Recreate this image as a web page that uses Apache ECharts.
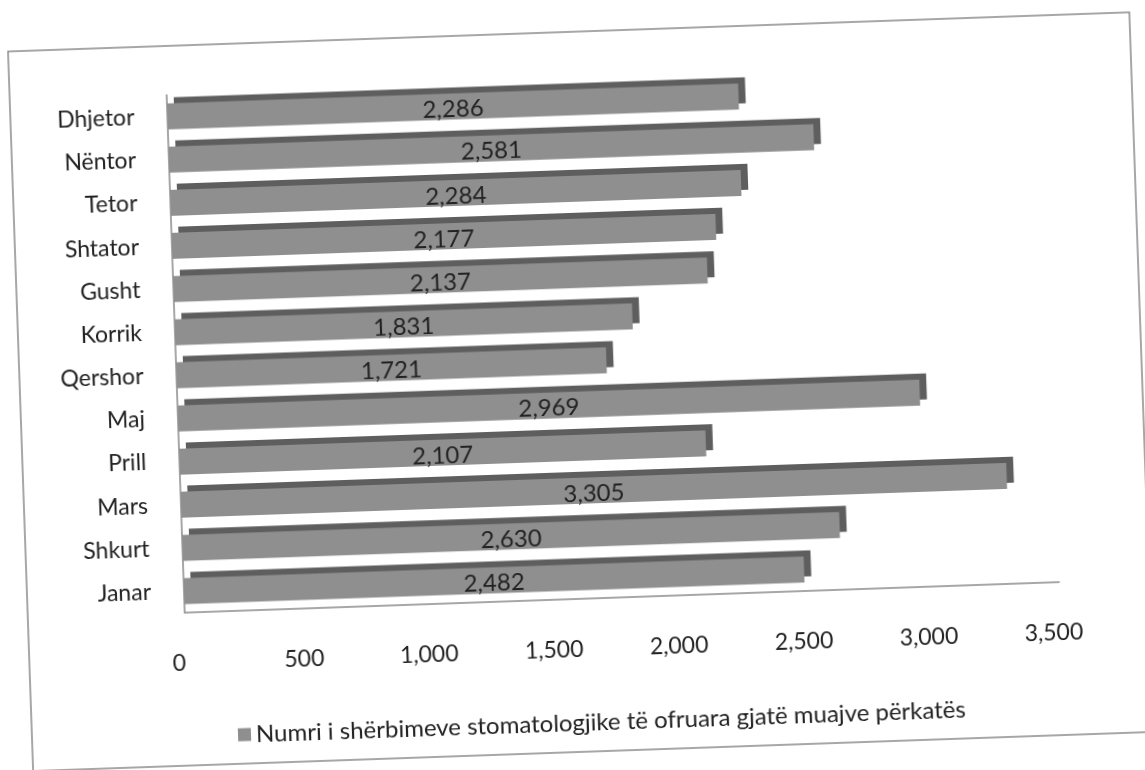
<!DOCTYPE html>
<html>
<head>
<meta charset="utf-8">
<script src="https://cdn.jsdelivr.net/npm/echarts@6/dist/echarts.min.js"></script>
<style>
  html, body { margin: 0; padding: 0; background: #fff; overflow: hidden; }
  /* skanimi eshte pak i rrotulluar */
  #chart { width: 1145px; height: 770px; transform: rotate(-2deg); transform-origin: 572px 385px; }
</style>
</head>
<body>
<div id="chart"></div>
<script>
// muajt (nga poshte lart)
var months = ['Janar', 'Shkurt', 'Mars', 'Prill', 'Maj', 'Qershor', 'Korrik', 'Gusht', 'Shtator', 'Tetor', 'Nëntor', 'Dhjetor'];
// numri i sherbimeve
var services = [2482, 2630, 3305, 2107, 2969, 1721, 1831, 2137, 2177, 2284, 2581, 2286];
var seriesName = 'Numri i shërbimeve stomatologjike të ofruara gjatë muajve përkatës';
var axisTicks = [0, 500, 1000, 1500, 2000, 2500, 3000, 3500];

var font = 'Lato, "Open Sans", sans-serif';
var chart = echarts.init(document.getElementById('chart'));

chart.setOption({
    animation: false,
    backgroundColor: '#fff',
    graphic: [{
        type: 'rect',
        shape: { x: 20, y: 32, width: 1122, height: 720 },
        style: { fill: 'none', stroke: '#8a8a8a', lineWidth: 1.5 },
        silent: true
    }],
    grid: { left: 177, right: 93, top: 81, bottom: 171 },
    legend: {
        data: [seriesName],
        left: 221,
        top: 706,
        icon: 'rect',
        itemWidth: 13,
        itemHeight: 13,
        itemGap: 6,
        textStyle: { fontFamily: font, fontSize: 24, color: '#222' }
    },
    xAxis: {
        type: 'value',
        min: axisTicks[0],
        max: axisTicks[axisTicks.length - 1],
        interval: 500,
        axisLine: { show: true, lineStyle: { color: '#8a8a8a', width: 1.5 } },
        axisTick: { show: false },
        splitLine: { show: false },
        axisLabel: {
            margin: 39,
            padding: [0, 14, 0, 0],
            fontFamily: font,
            fontSize: 23,
            color: '#222',
            formatter: function (v) { return v.toLocaleString('en-US'); }
        }
    },
    yAxis: {
        type: 'category',
        data: months,
        axisLine: { show: true, lineStyle: { color: '#8a8a8a', width: 1.5 } },
        axisTick: { show: false },
        axisLabel: {
            margin: 33,
            padding: [24, 0, 0, 0],
            fontFamily: font,
            fontSize: 23,
            color: '#222'
        }
    },
    series: [{
        name: seriesName,
        type: 'bar',
        data: services,
        barWidth: 26,
        itemStyle: {
            color: '#8f8f8f',
            shadowColor: '#5e5e5e',
            shadowBlur: 0,
            shadowOffsetX: 7,
            shadowOffsetY: -6
        },
        label: {
            show: true,
            position: 'inside',
            offset: [0, 3],
            fontFamily: font,
            fontSize: 24,
            color: '#222',
            formatter: function (p) { return p.value.toLocaleString('en-US'); }
        }
    }]
});
</script>
</body>
</html>
